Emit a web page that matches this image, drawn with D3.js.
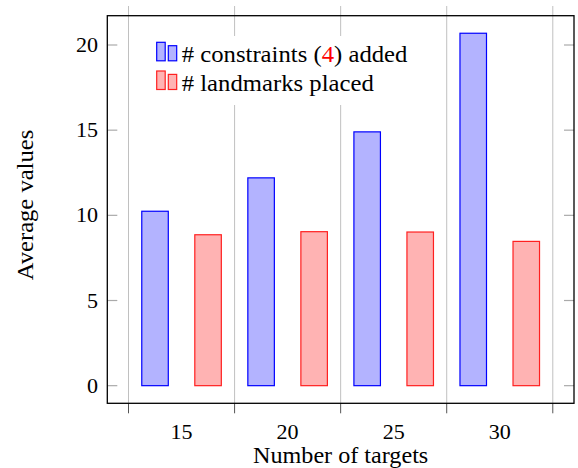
<!DOCTYPE html>
<html>
<head>
<meta charset="utf-8">
<script src="https://cdn.jsdelivr.net/npm/d3@7"></script>
<style>
  html, body { margin: 0; padding: 0; background: #fff; }
</style>
</head>
<body>
<svg id="chart" width="578" height="468"></svg>
<script>
// Average values per number of targets
const targets = [15, 20, 25, 30];
const constraintsAdded = [10.24, 12.2, 14.9, 20.69];
const landmarksPlaced = [8.86, 9.04, 9.02, 8.47];
const yTicks = [0, 5, 10, 15, 20];
const xGrid = [12.5, 17.5, 22.5, 27.5, 32.5];

const legendParts = ["# constraints (", "4", ") added"];
const legendSecond = "# landmarks placed";

const FONT = "Liberation Serif";
const WIDEN = 1.05;        // slightly wider typesetting
const WIDEN_LEGEND = 1.075;

const svg = d3.select("#chart");
const frame = { left: 107.3, right: 574, top: 15.7, bottom: 403.3 };

const x = d3.scaleLinear().domain([11.5, 33.5]).range([frame.left, frame.right]);
const y = d3.scaleLinear().domain([-1.035, 21.72]).range([frame.bottom, frame.top]);

const barW = 1.25, offset = 1.25;
const blue = { fill: "#b3b3ff", stroke: "#0000ff" };
const red = { fill: "#ffb3b3", stroke: "#ff2020" };

// vertical grid lines between groups
svg.append("g").selectAll("line").data(xGrid).join("line")
  .attr("x1", d => x(d)).attr("x2", d => x(d))
  .attr("y1", 6).attr("y2", frame.bottom)
  .attr("stroke", "#c0c0c0").attr("stroke-width", 1);
svg.append("g").selectAll("line").data(xGrid).join("line")
  .attr("x1", d => x(d)).attr("x2", d => x(d))
  .attr("y1", frame.bottom).attr("y2", frame.bottom + 10)
  .attr("stroke", "#555").attr("stroke-width", 1);

// y tick marks, inside both vertical edges
const yt = svg.append("g");
yt.selectAll("line.l").data(yTicks).join("line").attr("class", "l")
  .attr("x1", frame.left).attr("x2", frame.left + 10)
  .attr("y1", d => y(d)).attr("y2", d => y(d))
  .attr("stroke", "#aaa").attr("stroke-width", 1.2);
yt.selectAll("line.r").data(yTicks).join("line").attr("class", "r")
  .attr("x1", frame.right - 10).attr("x2", frame.right)
  .attr("y1", d => y(d)).attr("y2", d => y(d))
  .attr("stroke", "#aaa").attr("stroke-width", 1.2);

// y tick labels
svg.append("g").selectAll("g").data(yTicks).join("g")
  .attr("transform", d => `translate(98,${y(d) + 7}) scale(${WIDEN},1)`)
  .append("text")
  .attr("font-family", FONT)
  .attr("text-anchor", "end").attr("font-size", 21).attr("fill", "#000")
  .text(d => d);

// x tick labels
svg.append("g").selectAll("g").data(targets).join("g")
  .attr("transform", d => `translate(${x(d)},439) scale(${WIDEN},1)`)
  .append("text")
  .attr("font-family", FONT)
  .attr("text-anchor", "middle").attr("font-size", 21).attr("fill", "#000")
  .text(d => d);

// bars
const bars = svg.append("g");
bars.selectAll("rect.c").data(targets).join("rect").attr("class", "c")
  .attr("x", d => x(d - offset - barW / 2))
  .attr("width", d => x(d + barW / 2) - x(d - barW / 2))
  .attr("y", (d, i) => y(constraintsAdded[i]))
  .attr("height", (d, i) => y(0) - y(constraintsAdded[i]))
  .attr("fill", blue.fill).attr("stroke", blue.stroke).attr("stroke-width", 1.2);
bars.selectAll("rect.m").data(targets).join("rect").attr("class", "m")
  .attr("x", d => x(d + offset - barW / 2))
  .attr("width", d => x(d + barW / 2) - x(d - barW / 2))
  .attr("y", (d, i) => y(landmarksPlaced[i]))
  .attr("height", (d, i) => y(0) - y(landmarksPlaced[i]))
  .attr("fill", red.fill).attr("stroke", red.stroke).attr("stroke-width", 1.2);

// legend
const lg = svg.append("g");
lg.append("rect").attr("x", 140).attr("y", 36).attr("width", 285).attr("height", 69).attr("fill", "#fff");
function legendIcon(ty, c) {
  lg.append("rect").attr("x", 156.7).attr("y", ty).attr("width", 8.5).attr("height", 18.5)
    .attr("fill", c.fill).attr("stroke", c.stroke).attr("stroke-width", 1.2);
  lg.append("rect").attr("x", 168.3).attr("y", ty + 3.4).attr("width", 8.4).attr("height", 15.1)
    .attr("fill", c.fill).attr("stroke", c.stroke).attr("stroke-width", 1.2);
}
legendIcon(42.3, blue);
legendIcon(71, red);
const t1 = lg.append("g").attr("transform", `translate(181.7,61.7) scale(${WIDEN_LEGEND},1)`)
  .append("text").attr("font-family", FONT).attr("font-size", 23).attr("fill", "#000");
t1.append("tspan").text(legendParts[0]);
t1.append("tspan").attr("fill", "#ff0000").text(legendParts[1]);
t1.append("tspan").text(legendParts[2]);
lg.append("g").attr("transform", `translate(181.7,91) scale(${WIDEN_LEGEND},1)`)
  .append("text").attr("font-family", FONT).attr("font-size", 23).attr("fill", "#000").text(legendSecond);

// frame
svg.append("rect")
  .attr("x", frame.left).attr("y", frame.top)
  .attr("width", frame.right - frame.left).attr("height", frame.bottom - frame.top)
  .attr("fill", "none").attr("stroke", "#000").attr("stroke-width", 1.3);

// axis titles
svg.append("g").attr("transform", `translate(${(frame.left + frame.right) / 2},463.3) scale(${WIDEN},1)`)
  .append("text").attr("font-family", FONT)
  .attr("text-anchor", "middle").attr("font-size", 23).attr("fill", "#000")
  .text("Number of targets");
svg.append("g").attr("transform", `translate(33,205) rotate(-90) scale(1.07,1)`)
  .append("text").attr("font-family", FONT)
  .attr("text-anchor", "middle").attr("font-size", 23).attr("fill", "#000")
  .text("Average values");
</script>
</body>
</html>
